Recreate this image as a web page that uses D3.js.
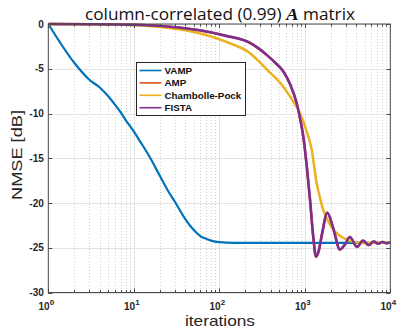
<!DOCTYPE html>
<html><head><meta charset="utf-8">
<script src="https://cdn.jsdelivr.net/npm/d3@7"></script>
<style>body{margin:0;background:#fff}svg{display:block}</style>
</head><body>
<svg id="c" width="397" height="329"></svg>
<script>
const seriesNames = ["VAMP", "AMP", "Chambolle-Pock", "FISTA"];
const seriesColors = ["#0072BD", "#D95319", "#EDB120", "#7E2F8E"];

const vampIter = [1, 2, 3, 4, 5, 6, 7, 8, 10, 12, 15, 20, 25, 30, 40, 50, 60, 70, 80, 100, 150, 300, 1000, 10000];
const vampDb   = [0, -4.3, -6.2, -7.1, -8.05, -9.0, -9.85, -10.7, -12.0, -13.2, -14.7, -16.9, -18.6, -19.8, -21.8, -23.0, -23.7, -24.0, -24.2, -24.37, -24.45, -24.45, -24.45, -24.45];

const fistaIter = [1, 3, 9, 26, 59, 117, 229, 286, 358, 448, 561, 671, 804, 879, 960, 1052, 1150, 1250, 1352, 1460, 1580, 1836, 2150, 2570, 2960, 3365, 4075, 4790, 5600, 6400, 7200, 8100, 9000, 10000];
const fistaDb   = [0, -0.02, -0.08, -0.3, -0.7, -1.3, -2.1, -2.7, -3.45, -4.3, -5.3, -6.7, -8.85, -10.5, -12.58, -15.8, -19.6, -23.6, -26.0, -25.3, -23.6, -21.1, -22.8, -25.2, -24.6, -23.8, -24.9, -24.2, -24.7, -24.3, -24.55, -24.35, -24.5, -24.4];

const ampIter = fistaIter;
const ampDb   = fistaDb;

const cpIter = [1, 3, 9, 26, 59, 117, 229, 358, 561, 703, 879, 1052, 1204, 1377, 1507, 1648, 1883, 2155, 2578, 3090, 4525, 6000, 10000];
const cpDb   = [0, -0.03, -0.12, -0.45, -1.04, -1.95, -3.27, -5.06, -7.0, -8.4, -9.97, -12.0, -14.06, -17.8, -19.45, -20.8, -22.06, -23.0, -23.66, -24.1, -24.47, -24.45, -24.45];

const yTicks = [0, -5, -10, -15, -20, -25, -30];
const xTickExps = [0, 1, 2, 3, 4];

const svg = d3.select("#c");
const L = 48.3, R = 390.3, T = 24, B = 292.5;
const x = d3.scaleLog().domain([1, 10000]).range([L, R]);
const y = d3.scaleLinear().domain([-30, 0]).range([B, T]);

const minor = [];
for (let e = 0; e < 4; e++) for (let k = 2; k <= 9; k++) minor.push(k * Math.pow(10, e));

const g = svg.append("g");
g.selectAll(".mg").data(minor).join("line")
  .attr("x1", d => Math.round(x(d)) + 0.5).attr("x2", d => Math.round(x(d)) + 0.5)
  .attr("y1", T).attr("y2", B)
  .attr("stroke", "#cfcfcf").attr("stroke-width", 1).attr("stroke-dasharray", "1,2");
g.selectAll(".gx").data(xTickExps.map(e => Math.pow(10, e))).join("line")
  .attr("x1", d => Math.round(x(d)) + 0.5).attr("x2", d => Math.round(x(d)) + 0.5)
  .attr("y1", T).attr("y2", B).attr("stroke", "#e3e3e3").attr("stroke-width", 1);
g.selectAll(".gy").data(yTicks).join("line")
  .attr("x1", L).attr("x2", R)
  .attr("y1", d => Math.round(y(d)) + 0.5).attr("y2", d => Math.round(y(d)) + 0.5)
  .attr("stroke", "#e3e3e3").attr("stroke-width", 1);

const line = d3.line().x(d => x(d[0])).y(d => y(d[1])).curve(d3.curveMonotoneX);
const zip = (a, b) => a.map((v, i) => [v, b[i]]);
const seriesData = [zip(vampIter, vampDb), zip(ampIter, ampDb), zip(cpIter, cpDb), zip(fistaIter, fistaDb)];
const widths = [2.2, 2.5, 2.5, 2.6];
const plot = svg.append("g");
plot.append("clipPath").attr("id", "clip").append("rect").attr("x", L).attr("y", T - 2).attr("width", R - L).attr("height", B - T + 2);
[0, 1, 2, 3].forEach(i => {
  plot.append("path").attr("d", line(seriesData[i])).attr("fill", "none")
    .attr("stroke", seriesColors[i]).attr("stroke-width", widths[i])
    .attr("stroke-linejoin", "round")
    .attr("clip-path", "url(#clip)");
});

svg.append("rect").attr("x", L).attr("y", T).attr("width", R - L).attr("height", B - T)
  .attr("fill", "none").attr("stroke", "#4a4a4a").attr("stroke-width", 1);
const tk = svg.append("g").attr("stroke", "#4a4a4a").attr("stroke-width", 1);
xTickExps.forEach(e => {
  const px = Math.round(x(Math.pow(10, e))) + 0.5;
  tk.append("line").attr("x1", px).attr("x2", px).attr("y1", B).attr("y2", B - 4);
  tk.append("line").attr("x1", px).attr("x2", px).attr("y1", T).attr("y2", T + 4);
});
minor.forEach(d => {
  const px = Math.round(x(d)) + 0.5;
  tk.append("line").attr("x1", px).attr("x2", px).attr("y1", B).attr("y2", B - 2.5);
  tk.append("line").attr("x1", px).attr("x2", px).attr("y1", T).attr("y2", T + 2.5);
});
yTicks.forEach(d => {
  const py = Math.round(y(d)) + 0.5;
  tk.append("line").attr("x1", L).attr("x2", L + 4).attr("y1", py).attr("y2", py);
  tk.append("line").attr("x1", R).attr("x2", R - 4).attr("y1", py).attr("y2", py);
});

const font = "'Liberation Sans', Arial, sans-serif";
svg.append("g").selectAll("text").data(yTicks).join("text")
  .attr("x", L - 4.5).attr("y", d => y(d) + 3.5).attr("text-anchor", "end")
  .attr("font-family", font).attr("font-weight", "bold").attr("font-size", 10).attr("fill", "#262626")
  .text(d => d === 0 ? "0" : "-" + Math.abs(d));
const xl = svg.append("g").selectAll("text").data(xTickExps).join("text")
  .attr("x", e => x(Math.pow(10, e)) - 2).attr("y", 310).attr("text-anchor", "middle")
  .attr("font-family", font).attr("font-weight", "bold").attr("font-size", 10).attr("fill", "#262626");
xl.append("tspan").text("10");
xl.append("tspan").attr("dy", -5).attr("font-size", 8).text(e => e);

const lab = "'Open Sans', 'DejaVu Sans', sans-serif";
const title = svg.append("text").attr("x", 85).attr("y", 20)
  .attr("textLength", 270).attr("lengthAdjust", "spacingAndGlyphs")
  .attr("font-family", lab).attr("font-size", 15.5).attr("fill", "#111");
title.append("tspan").text("column-correlated (0.99) ");
title.append("tspan").attr("font-family", "'Liberation Serif', serif").attr("font-weight", "bold").attr("font-style", "italic").attr("font-size", 17).text("A");
title.append("tspan").text(" matrix");

svg.append("text").attr("x", 185).attr("y", 326)
  .attr("textLength", 70).attr("lengthAdjust", "spacingAndGlyphs")
  .attr("font-family", font).attr("font-size", 14.5).attr("fill", "#262626").text("iterations");
svg.append("text").attr("transform", "translate(21.5,200) rotate(-90)")
  .attr("textLength", 90).attr("lengthAdjust", "spacingAndGlyphs")
  .attr("font-family", font).attr("font-size", 15.5).attr("fill", "#262626").text("NMSE [dB]");

const lg = svg.append("g");
lg.append("rect").attr("x", 136.5).attr("y", 62.5).attr("width", 109).attr("height", 53)
  .attr("fill", "#fff").attr("stroke", "#262626").attr("stroke-width", 1);
seriesNames.forEach((n, i) => {
  const ly = 70.5 + i * 12.4;
  lg.append("line").attr("x1", 139.5).attr("x2", 161.5).attr("y1", ly).attr("y2", ly)
    .attr("stroke", seriesColors[i]).attr("stroke-width", 1.6);
  lg.append("text").attr("x", 164.5).attr("y", ly + 3.5).attr("font-family", font)
    .attr("font-weight", "bold").attr("font-size", 9.8).attr("fill", "#111").text(n);
});
</script>
</body></html>
